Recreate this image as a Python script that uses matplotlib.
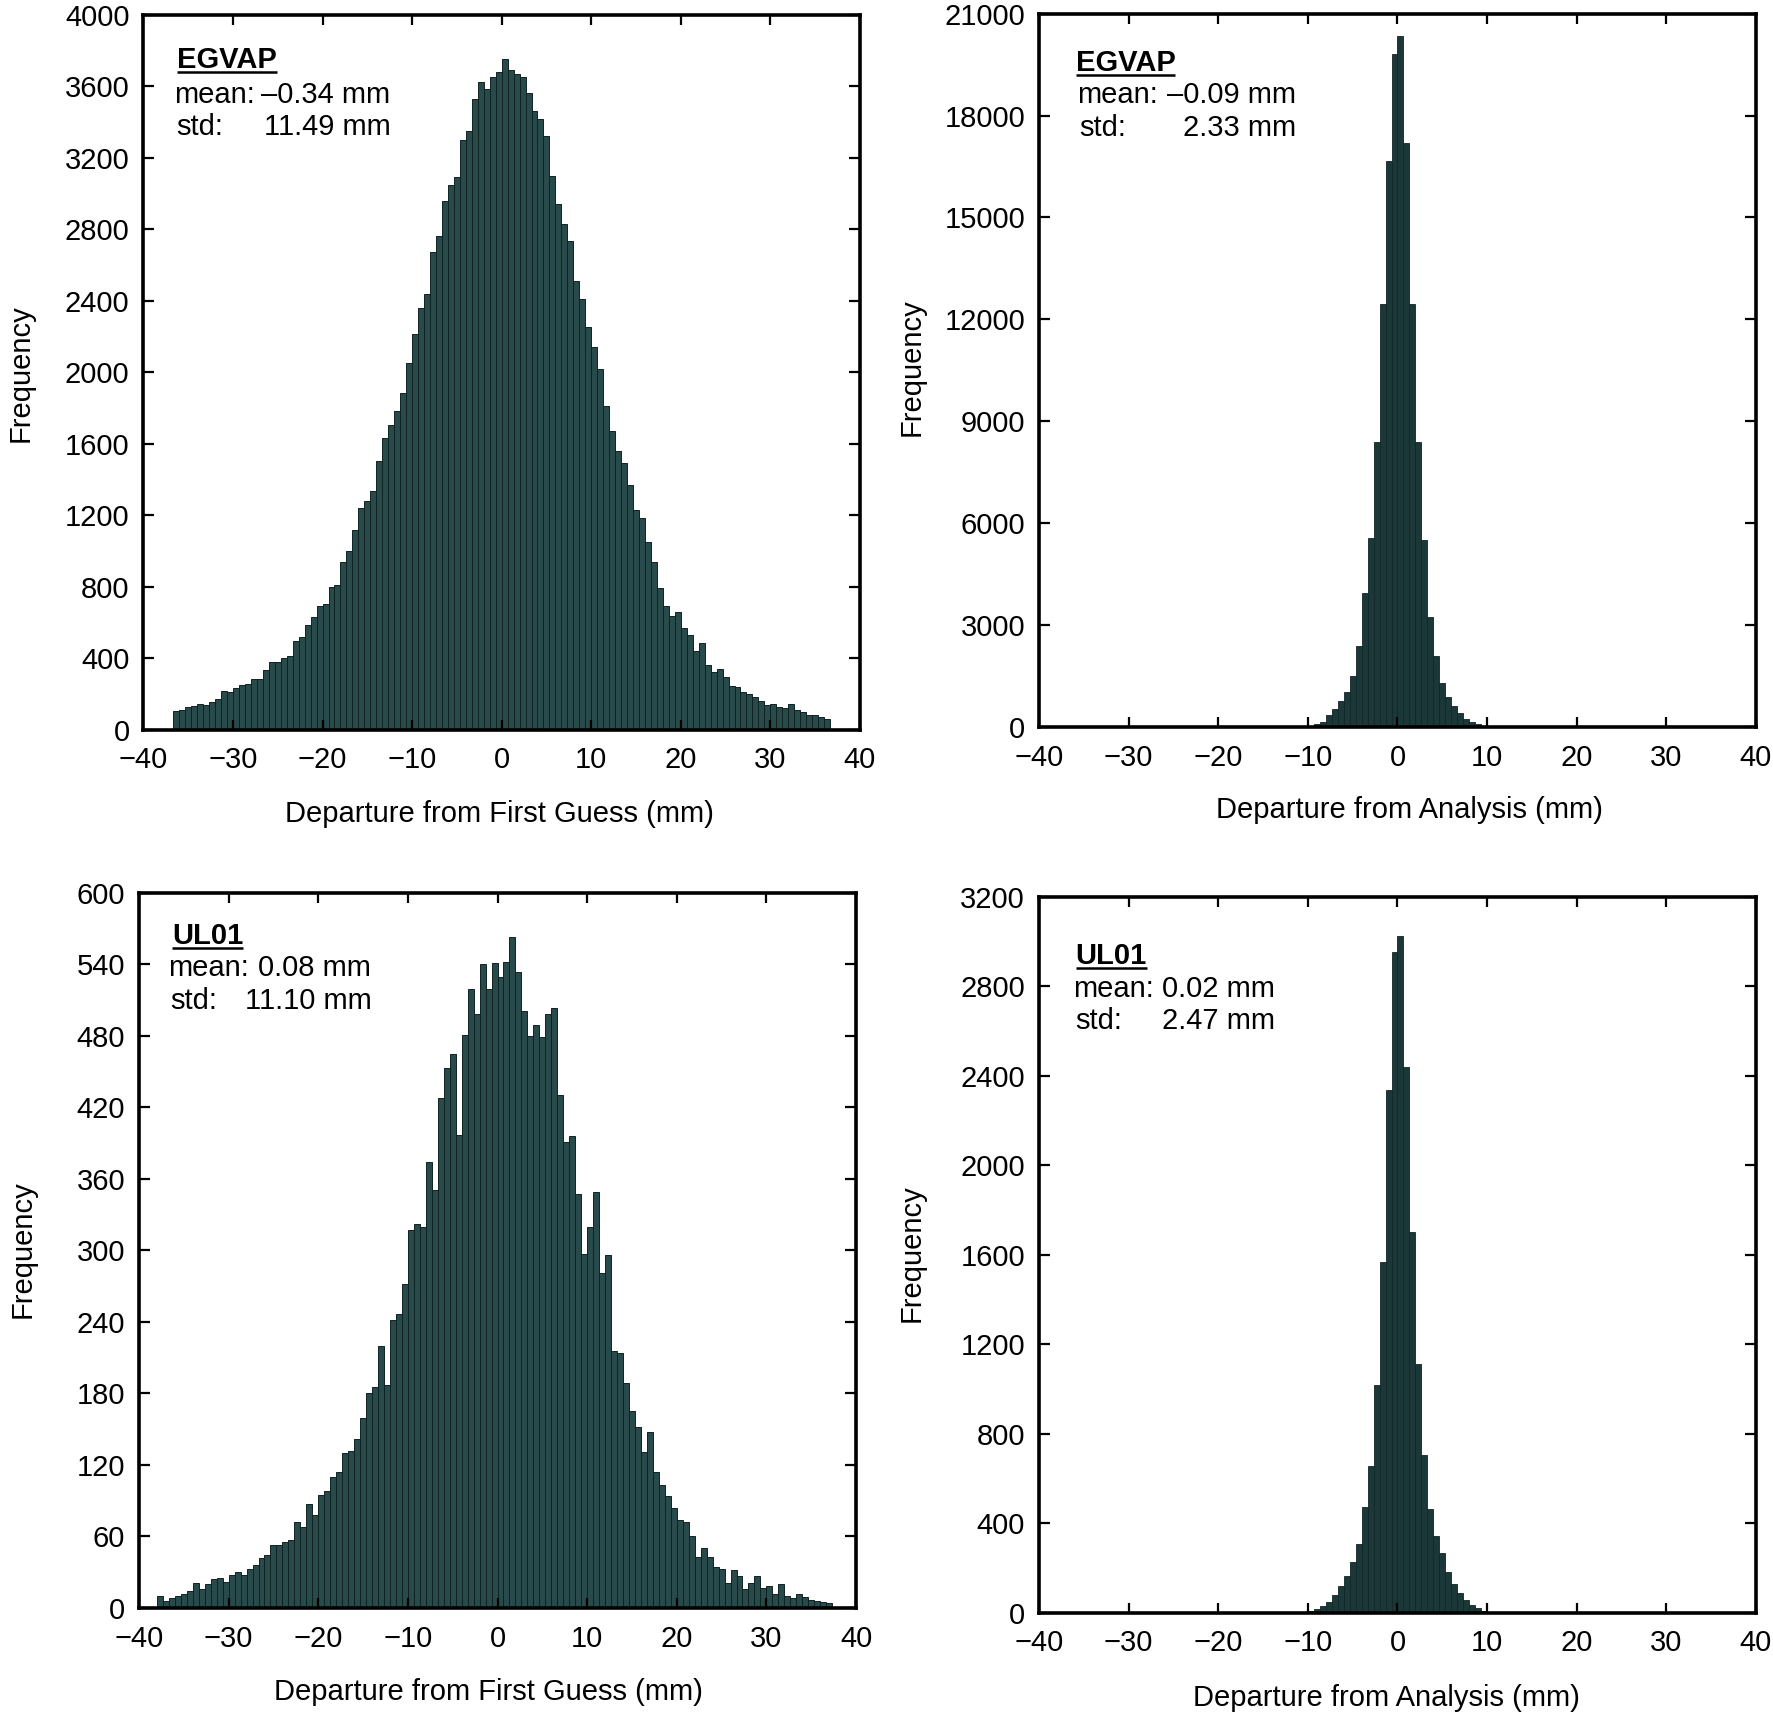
import numpy as np
import matplotlib
matplotlib.use("Agg")
import matplotlib.pyplot as plt

plt.rcParams['font.family'] = ['Liberation Sans', 'DejaVu Sans']

# bin width of all four histograms (mm)
BIN = 2.0 / 3.0

# first-guess departures, EGVAP (bins k = -55 .. 54)
egvap_fg_start = -55
egvap_fg = [103, 111, 124, 129, 145, 140, 155, 171, 216, 211,
            235, 248, 256, 282, 285, 334, 378, 380, 398, 410,
            497, 520, 585, 630, 690, 700, 800, 810, 935, 1000,
            1115, 1240, 1280, 1335, 1505, 1630, 1707, 1780, 1885, 2050,
            2215, 2360, 2440, 2670, 2760, 2960, 3050, 3090, 3300, 3350,
            3530, 3625, 3585, 3650, 3680,
            3750, 3690, 3670, 3650, 3560, 3460, 3415, 3320, 3100, 2940,
            2830, 2735, 2510, 2410, 2250, 2140, 2020, 1810, 1670, 1560,
            1490, 1370, 1230, 1185, 1050, 935, 790, 690, 633, 657,
            567, 527, 440, 485, 361, 322, 340, 295, 243, 240,
            211, 198, 182, 158, 137, 145, 124, 119, 145, 107,
            98, 84, 82, 71, 58]

# analysis departures, EGVAP (bins k = -15 .. 14)
egvap_an_start = -15
egvap_an = [35, 90, 160, 340, 540, 770, 1040, 1490, 2370, 3930,
            5550, 8400, 12450, 16650, 19800, 20330, 17200, 12450, 8400, 5490,
            3250, 2100, 1290, 880, 610, 400, 245, 150, 80, 30]

# first-guess departures, UL01 (bins k = -57 .. 55)
ul01_fg_start = -57
ul01_fg = [10, 6, 8, 10, 12, 14, 21, 16, 20, 24,
           25, 22, 28, 30, 28, 33, 36, 42, 44, 53,
           53, 55, 57, 72, 68, 87, 78, 95, 98, 110,
           114, 130, 132, 142, 159, 180, 185, 220, 187,
           242, 247, 272, 317, 322, 320, 374, 351, 428, 453,
           465, 397, 481, 519, 498, 540, 519, 541, 529,
           542, 563, 534, 501, 480, 489, 479, 498, 503, 430,
           391, 396, 347, 297, 320, 349, 281, 296,
           216, 214, 189, 165, 152, 131, 148, 114, 103, 94,
           84, 74, 72, 60, 43, 50, 43, 34, 33, 21,
           32, 27, 16, 21, 27, 17, 18, 12, 20, 10,
           8, 12, 9, 7, 6, 5, 4]

# analysis departures, UL01 (bins k = -15 .. 14)
ul01_an_start = -15
ul01_an = [6, 18, 30, 48, 79, 120, 165, 227, 306, 471,
           657, 1019, 1567, 2336, 2952, 3024, 2439, 1701, 1112, 703,
           461, 343, 265, 182, 130, 89, 58, 32, 20, 8]

stats = {
    "tl": ("EGVAP", "\u20130.34 mm", "11.49 mm"),
    "tr": ("EGVAP", "\u20130.09 mm", "2.33 mm"),
    "bl": ("UL01", "0.08 mm", "11.10 mm"),
    "br": ("UL01", "0.02 mm", "2.47 mm"),
}

FS = 21
W, H = 1773, 1721
fig = plt.figure(figsize=(W / 100, H / 100), dpi=100)

panels = {
    "tl": dict(rect=[0.0809, 0.5761, 0.4041, 0.4153], counts=egvap_fg, start=egvap_fg_start,
               ymax=4000, yticks=np.arange(0, 4001, 400), xlabel="Departure from First Guess (mm)",
               xlab=(0.497, -0.118), ylab=(-0.172, 0.499), solid=False,
               txt=(0.047, 0.043, 0.345, [0.926, 0.877, 0.832])),
    "tr": dict(rect=[0.5860, 0.5776, 0.4044, 0.4145], counts=egvap_an, start=egvap_an_start,
               ymax=21000, yticks=np.arange(0, 21001, 3000), xlabel="Departure from Analysis (mm)",
               xlab=(0.517, -0.116), ylab=(-0.178, 0.505), solid=True,
               txt=(0.051, 0.053, 0.358, [0.919, 0.875, 0.829])),
    "bl": dict(rect=[0.0784, 0.0657, 0.4044, 0.4155], counts=ul01_fg, start=ul01_fg_start,
               ymax=600, yticks=np.arange(0, 601, 60), xlabel="Departure from First Guess (mm)",
               xlab=(0.487, -0.117), ylab=(-0.162, 0.502), solid=False,
               txt=(0.046, 0.041, 0.324, [0.929, 0.884, 0.838])),
    "br": dict(rect=[0.5860, 0.0630, 0.4044, 0.4158], counts=ul01_an, start=ul01_an_start,
               ymax=3200, yticks=np.arange(0, 3201, 400), xlabel="Departure from Analysis (mm)",
               xlab=(0.484, -0.119), ylab=(-0.178, 0.502), solid=True,
               txt=(0.051, 0.048, 0.329, [0.906, 0.860, 0.816])),
}

heads = []
for key, p in panels.items():
    ax = fig.add_axes(p["rect"])
    counts = np.array(p["counts"])
    lefts = BIN * (p["start"] + np.arange(len(counts)))
    if p["solid"]:
        ax.bar(lefts, counts, width=BIN, align="edge", color="#1b3737",
               edgecolor="#112626", linewidth=0.6)
    else:
        ax.bar(lefts, counts, width=BIN, align="edge", color="#294a4a",
               edgecolor="#0f2222", linewidth=0.7)

    ax.set_xlim(-40, 40)
    ax.set_ylim(0, p["ymax"])
    ax.set_xticks(np.arange(-40, 41, 10))
    ax.set_yticks(p["yticks"])
    ax.tick_params(axis="both", direction="in", top=True, right=True,
                   labelsize=FS, width=1.6, color="black")
    ax.tick_params(axis="x", length=7, pad=12)
    ax.tick_params(axis="y", length=8, pad=10)
    for s in ax.spines.values():
        s.set_linewidth(2.6)
        s.set_color("black")

    ax.set_xlabel(p["xlabel"], fontsize=FS, va="center")
    ax.xaxis.set_label_coords(*p["xlab"])
    ax.set_ylabel("Frequency", fontsize=FS, va="center")
    ax.yaxis.set_label_coords(*p["ylab"])

    name, mean, std = stats[key]
    xh, xl, xr, ys = p["txt"]
    t = ax.text(xh, ys[0], name, transform=ax.transAxes, fontsize=FS,
                fontweight="bold", va="baseline", ha="left")
    heads.append((ax, t))
    ax.text(xl, ys[1], "mean:", transform=ax.transAxes, fontsize=FS, va="baseline")
    ax.text(xr, ys[1], mean, transform=ax.transAxes, fontsize=FS, va="baseline", ha="right")
    ax.text(xl + 0.003, ys[2], "std:", transform=ax.transAxes, fontsize=FS, va="baseline")
    ax.text(xr, ys[2], std, transform=ax.transAxes, fontsize=FS, va="baseline", ha="right")

# underline the station names
fig.canvas.draw()
renderer = fig.canvas.get_renderer()
for ax, t in heads:
    bb = t.get_window_extent(renderer)
    inv = ax.transAxes.inverted()
    (x0, y0), (x1, _) = inv.transform([(bb.x0, bb.y0 + 2), (bb.x1, bb.y0 + 2)])
    ax.plot([x0, x1], [y0, y0], transform=ax.transAxes, color="black",
            lw=1.8, clip_on=False, solid_capstyle="butt")

fig.savefig("out.png", dpi=100)
